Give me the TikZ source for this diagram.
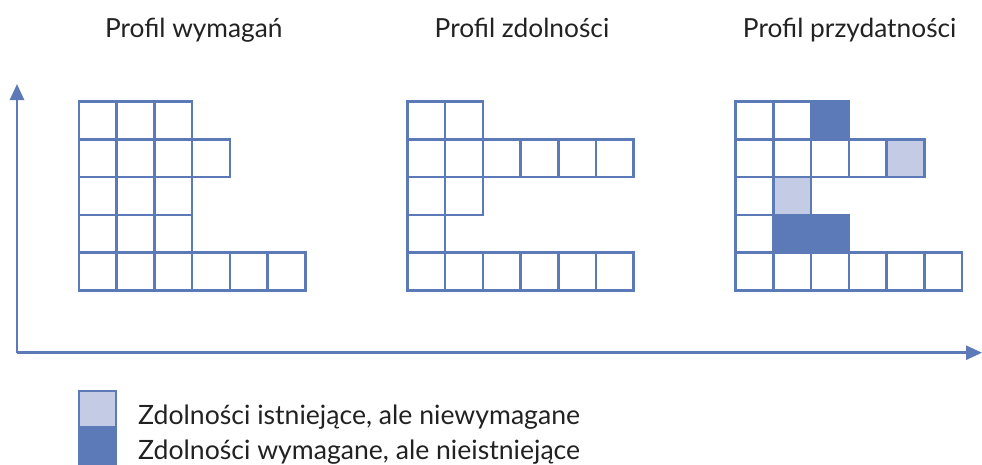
\documentclass[tikz,border=0pt]{standalone}
\usepackage{fontspec}
\setmainfont{Lato}
\usetikzlibrary{arrows.meta}
\definecolor{gblue}{HTML}{5B7AB7}
\definecolor{glight}{HTML}{C4CBE4}
\definecolor{txt}{HTML}{222222}
\begin{document}
\begin{tikzpicture}[x=1pt,y=-1pt,
  cell/.style={draw=gblue,line width=2.6pt,fill=white},
  lightcell/.style={draw=gblue,line width=2.6pt,fill=glight},
  darkcell/.style={draw=gblue,line width=2.6pt,fill=gblue},
  axis/.style={draw=gblue,line width=2.6pt,-{Triangle[length=16pt,width=14pt]}},
  title/.style={text=txt,font=\fontsize{26.3}{30}\selectfont,inner sep=0pt,anchor=base},
  legtext/.style={text=txt,font=\fontsize{26.6}{30}\selectfont,inner sep=0pt,anchor=base west}]
\useasboundingbox (0,0) rectangle (982,464);
\def\cs{37.7}
% axes
\coordinate (O) at (17,352.7);
\coordinate (ytip) at (17,84);
\coordinate (xtip) at (982,352.7);
\draw[axis] (O) -- (ytip);
\draw[axis] (O) -- (xtip);
% titles
\node[title] (t1) at (193.8,37.7) {Profil wymagań};
\node[title] (t2) at (522,37.7) {Profil zdolności};
\node[title] (t3) at (849.7,37.7) {Profil przydatności};
% grid 1
\foreach \r/\c in {0/0,0/1,0/2,1/0,1/1,1/2,1/3,2/0,2/1,2/2,3/0,3/1,3/2,4/0,4/1,4/2,4/3,4/4,4/5}
  \draw[cell] ({79+\c*\cs},{101.7+\r*\cs}) rectangle ++(\cs,\cs);
% grid 2
\foreach \r/\c in {0/0,0/1,1/0,1/1,1/2,1/3,1/4,1/5,2/0,2/1,3/0,4/0,4/1,4/2,4/3,4/4,4/5}
  \draw[cell] ({407.4+\c*\cs},{101.7+\r*\cs}) rectangle ++(\cs,\cs);
% grid 3
\foreach \r/\c in {0/0,0/1,1/0,1/1,1/2,1/3,2/0,3/0,4/0,4/1,4/2,4/3,4/4,4/5}
  \draw[cell] ({735.7+\c*\cs},{101.7+\r*\cs}) rectangle ++(\cs,\cs);
\foreach \r/\c in {1/4,2/1}
  \draw[lightcell] ({735.7+\c*\cs},{101.7+\r*\cs}) rectangle ++(\cs,\cs);
\foreach \r/\c in {0/2,3/1,3/2}
  \draw[darkcell] ({735.7+\c*\cs},{101.7+\r*\cs}) rectangle ++(\cs,\cs);
% legend
\draw[draw=gblue,line width=2pt,fill=glight] (79.3,391) rectangle (115.7,426.7);
\fill[gblue] (78.3,427.7) rectangle (116.7,466);
\node[legtext] (l1) at (138,424) {Zdolności istniejące, ale niewymagane};
\node[legtext] (l2) at (138,459) {Zdolności wymagane, ale nieistniejące};
\end{tikzpicture}
\end{document}
